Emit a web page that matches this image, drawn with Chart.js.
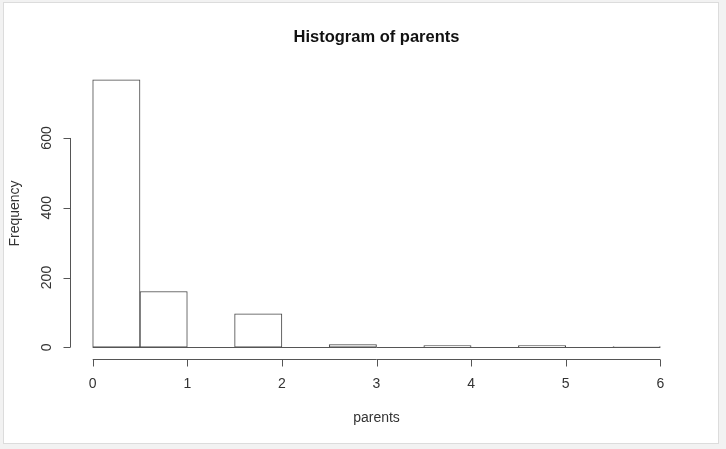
<!DOCTYPE html>
<html>
<head>
<meta charset="utf-8">
<script src="https://cdn.jsdelivr.net/npm/chart.js@4"></script>
<style>
  html, body { margin: 0; padding: 0; background: #f2f2f2; }
  #frame { position: absolute; left: 3px; top: 2px; width: 714px; height: 440px; background: #fff; border: 1px solid #dcdcdc; }
  #wrap { position: absolute; left: 0; top: 0; width: 726px; height: 449px; }
</style>
</head>
<body>
<div id="frame"></div>
<div id="wrap"><canvas id="histGraph"></canvas></div>
<script>
// ヒストグラムのデータ (階級の中心, 度数)
const binCenters = [0.25, 0.75, 1.25, 1.75, 2.25, 2.75, 3.25, 3.75, 4.25, 4.75, 5.25, 5.75];
const frequencies = [767, 160, 0, 96, 0, 8, 0, 5, 0, 5, 0, 2];
const xTicks = [0, 1, 2, 3, 4, 5, 6];
const yTicks = [0, 200, 400, 600];

// R風の軸を描くプラグイン
const rAxes = {
    id: 'rAxes',
    afterDraw(chart) {
        const c = chart.ctx;
        const xs = chart.scales.x, ys = chart.scales.y;
        const area = chart.chartArea;
        c.save();
        c.strokeStyle = '#555';
        c.lineWidth = 1;
        c.fillStyle = '#333';
        c.font = '14px "Liberation Sans", Arial, sans-serif';

        // 0のライン
        const y0 = Math.round(ys.getPixelForValue(0)) + 0.5;
        c.beginPath();
        c.moveTo(xs.getPixelForValue(0), y0);
        c.lineTo(xs.getPixelForValue(6), y0);
        c.stroke();

        // x軸
        const axY = Math.round(area.bottom) + 1.5;
        c.beginPath();
        c.moveTo(xs.getPixelForValue(xTicks[0]), axY);
        c.lineTo(xs.getPixelForValue(xTicks[xTicks.length - 1]), axY);
        xTicks.forEach(t => {
            const px = Math.round(xs.getPixelForValue(t)) + 0.5;
            c.moveTo(px, axY);
            c.lineTo(px, axY + 7);
        });
        c.stroke();
        c.textAlign = 'center';
        c.textBaseline = 'middle';
        xTicks.forEach(t => c.fillText(String(t), xs.getPixelForValue(t), 384));

        // y軸
        const axX = Math.round(area.left) + 0.5;
        c.beginPath();
        c.moveTo(axX, ys.getPixelForValue(yTicks[0]));
        c.lineTo(axX, ys.getPixelForValue(yTicks[yTicks.length - 1]));
        yTicks.forEach(t => {
            const py = Math.round(ys.getPixelForValue(t)) + 0.5;
            c.moveTo(axX, py);
            c.lineTo(axX - 7, py);
        });
        c.stroke();
        yTicks.forEach(t => {
            c.save();
            c.translate(47, ys.getPixelForValue(t));
            c.rotate(-Math.PI / 2);
            c.fillText(String(t), 0, 0);
            c.restore();
        });

        // 軸ラベル
        c.fillText('parents', (area.left + area.right) / 2, 418);
        c.save();
        c.translate(15, (area.top + area.bottom) / 2);
        c.rotate(-Math.PI / 2);
        c.fillText('Frequency', 0, 0);
        c.restore();

        // タイトル
        c.fillStyle = '#111';
        c.font = 'bold 16.5px "Liberation Sans", Arial, sans-serif';
        c.fillText('Histogram of parents', (area.left + area.right) / 2, 37);
        c.restore();
    }
};

const ctx = document.getElementById('histGraph').getContext('2d');
new Chart(ctx, {
    type: 'bar',
    data: {
        datasets: [{
            label: 'parents',
            data: binCenters.map((x, i) => ({ x: x, y: frequencies[i] })),
            backgroundColor: '#ffffff',
            borderColor: '#444',
            borderWidth: 1,
            borderSkipped: false,
            barPercentage: 1,
            categoryPercentage: 1
        }]
    },
    options: {
        responsive: true,
        maintainAspectRatio: false,
        animation: false,
        layout: { padding: { left: 70, top: 69, right: 43, bottom: 91 } },
        plugins: {
            legend: { display: false },
            title: { display: false },
            tooltip: { enabled: false }
        },
        scales: {
            x: { type: 'linear', display: false, offset: false, grid: { offset: false }, min: -0.24, max: 6.24 },
            y: { display: false, min: -30.7, max: 797.7 }
        }
    },
    plugins: [rAxes]
});
</script>
</body>
</html>
